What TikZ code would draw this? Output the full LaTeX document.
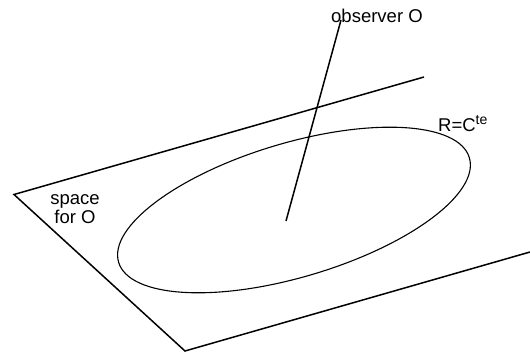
\documentclass[tikz,border=0pt]{standalone}
\usepackage{fontspec}
\setmainfont{Liberation Sans}
\usepackage{tikz}

\begin{document}
\begin{tikzpicture}[x=1pt,y=-1pt,
		edge/.style={line width=1.5pt,line join=miter},
		level/.style={line width=1.1pt},
		lbl/.style={font=\fontsize{18.5}{19}\selectfont,inner sep=0pt,align=center},
		]
		\useasboundingbox (0,0) rectangle (530,356);
		% the plane (space for O)
		\coordinate (far) at (424,77);
		\coordinate (cornerL) at (14,194.5);
		\coordinate (cornerB) at (185,351);
		\coordinate (near) at (530,252);
		\draw[edge] (far) -- (cornerL) -- (cornerB) -- (near);
		\node[lbl] (space) at (75,209) {space\\for O};
		
		% level set R = const
		\coordinate (ctr) at (294,210);
		\draw[level,rotate around={16.6:(ctr)}] (ctr) ellipse [x radius=183pt, y radius=67pt];
		\node[lbl,anchor=base west] (level) at (438,131) {R=C\raisebox{6.5pt}{\fontsize{14}{14}\selectfont te}};
		
		% the observer
		\node[lbl,anchor=base west] (obs) at (331,22) {observer O};
		\coordinate (foot) at (286,221);
		\coordinate (head) at (341,20);
		\draw[edge] (foot) -- (head);
\end{tikzpicture}
\end{document}
